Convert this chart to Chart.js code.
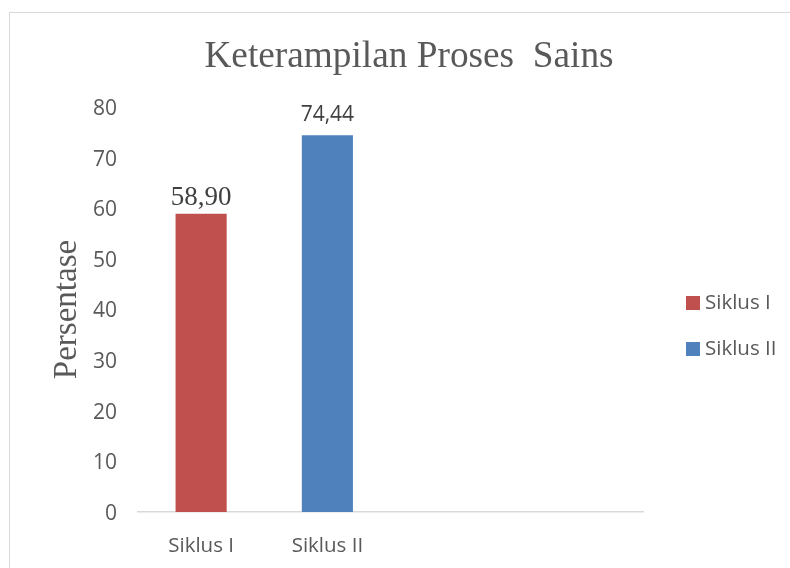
<!DOCTYPE html>
<html><head><meta charset="utf-8">
<script src="https://cdn.jsdelivr.net/npm/chart.js@4"></script>
<style>
html,body{margin:0;padding:0;background:#fff;}
#wrap{position:relative;width:790px;height:568px;overflow:hidden;}
#frame{position:absolute;left:9px;top:12px;width:800px;height:600px;border:1px solid #d9d9d9;box-sizing:border-box;}
canvas{position:absolute;left:0;top:0;}
</style></head>
<body><div id="wrap"><div id="frame"></div><canvas id="c" width="790" height="568"></canvas></div>
<script>
const categories = ["Siklus I", "Siklus II", "", ""];
const seriesNames = ["Siklus I", "Siklus II"];
const siklus1 = [58.90, null, null, null];
const siklus2 = [null, 74.44, null, null];
const yTicks = [0, 10, 20, 30, 40, 50, 60, 70, 80];
const colors = ["#C0504D", "#4F81BD"];
const chartTitle = 'Keterampilan Proses  Sains';

const SANS = '"Open Sans", sans-serif';
const SERIF = '"Liberation Serif", serif';

const labelPlugin = {
  id: 'valLabels',
  afterDatasetsDraw(chart) {
    const ctx = chart.ctx;
    chart.data.datasets.forEach((ds, di) => {
      const meta = chart.getDatasetMeta(di);
      meta.data.forEach((bar, i) => {
        const v = ds.data[i];
        if (v === null || v === undefined) return;
        const txt = v.toFixed(2).replace('.', ',');
        ctx.save();
        ctx.fillStyle = '#404040';
        ctx.textAlign = 'center';
        ctx.textBaseline = 'alphabetic';
        if (di === 0) {
          ctx.font = '27px ' + SERIF;
          ctx.fillText(txt, bar.x, bar.y - 9);
        } else {
          ctx.font = '21px ' + SANS;
          ctx.fillText(txt, bar.x, bar.y - 14);
        }
        ctx.restore();
      });
    });
  }
};

const titleLegendPlugin = {
  id: 'titleLegend',
  afterDraw(chart) {
    const ctx = chart.ctx;
    ctx.save();
    ctx.fillStyle = '#595959';
    ctx.font = '37.3px ' + SERIF;
    ctx.textAlign = 'center';
    ctx.textBaseline = 'middle';
    ctx.fillText(chartTitle, 409, 57);
    ctx.restore();
    const rowsY = [303, 349];
    chart.data.datasets.forEach((ds, di) => {
      const y = rowsY[di];
      ctx.save();
      ctx.fillStyle = ds.backgroundColor;
      ctx.fillRect(686, y - 7, 14, 14);
      ctx.fillStyle = '#595959';
      ctx.font = '20.5px ' + SANS;
      ctx.textAlign = 'left';
      ctx.textBaseline = 'middle';
      ctx.fillText(ds.label, 705, y);
      ctx.restore();
    });
  }
};

new Chart(document.getElementById('c'), {
  type: 'bar',
  data: {
    labels: categories,
    datasets: [
      { label: seriesNames[0], data: siklus1, backgroundColor: colors[0] },
      { label: seriesNames[1], data: siklus2, backgroundColor: colors[1] }
    ]
  },
  options: {
    responsive: false,
    animation: false,
    layout: { padding: { left: 0, right: 147, top: 107, bottom: 0 } },
    datasets: { bar: { grouped: false, categoryPercentage: 1, barPercentage: 0.405 } },
    plugins: {
      title: { display: false },
      legend: { display: false },
      tooltip: { enabled: false }
    },
    scales: {
      x: {
        grid: { display: false },
        border: { display: true, color: '#d9d9d9', width: 1.5 },
        ticks: { color: '#595959', font: { family: SANS, size: 20.5 }, padding: 14 },
        afterFit(s) { s.height = 56; }
      },
      y: {
        min: 0, max: 80,
        afterBuildTicks(s) { s.ticks = yTicks.map(v => ({ value: v })); },
        grid: { display: false },
        border: { display: false },
        title: {
          display: true, text: 'Persentase', color: '#595959',
          font: { family: SERIF, size: 33, weight: 'normal' },
          padding: { top: 48, bottom: 0 }
        },
        ticks: { color: '#595959', font: { family: SANS, size: 21 }, padding: 13, labelOffset: 2 },
        afterFit(s) { s.width = 138; }
      }
    }
  },
  plugins: [labelPlugin, titleLegendPlugin]
});
</script></body></html>
